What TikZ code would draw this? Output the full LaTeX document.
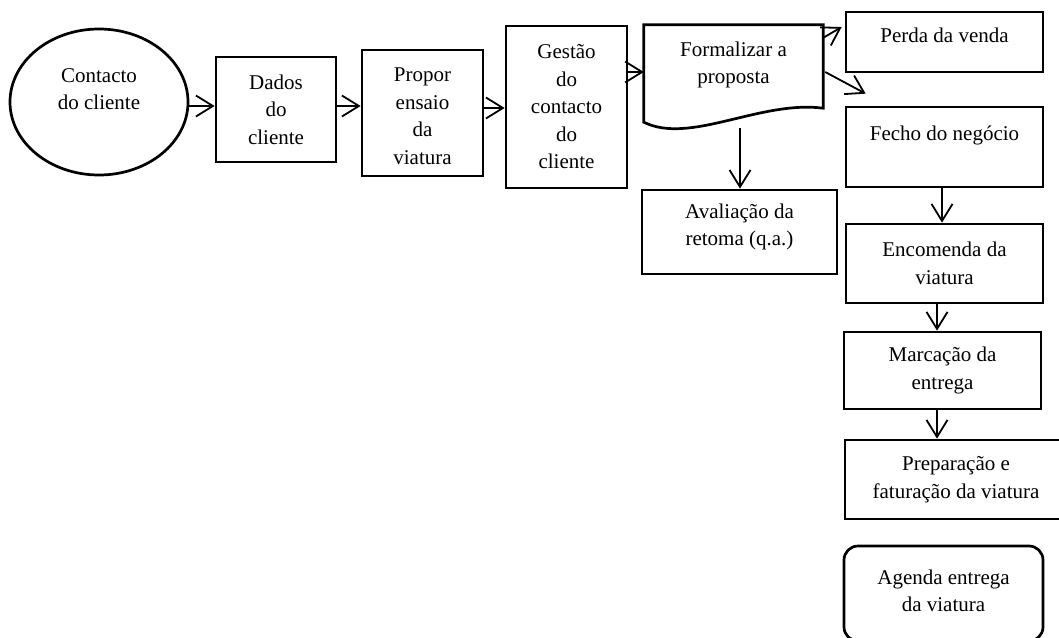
\documentclass[tikz,border=0pt]{standalone}
\usepackage{fontspec}
\setmainfont{Liberation Serif}
\usetikzlibrary{arrows.meta,shapes.geometric}
\begin{document}
\begin{tikzpicture}[x=1pt,y=-1pt,
  every node/.style={font=\fontsize{21}{27.5}\selectfont, align=center, inner sep=0pt},
  box/.style={draw, line width=2.7pt, rectangle},
  arr/.style={line width=1.8pt, -{Straight Barb[length=17pt,width=21pt]}}]
\clip (0,0) rectangle (1059,637);

% start of the process
\node[draw, ellipse, line width=2.7pt, minimum width=178pt, minimum height=146pt,
      label={[yshift=13pt]center:Contacto\\do cliente}] (ell) at (99,102) {};

% main row
\node[box, minimum width=120pt, minimum height=105pt] (dados) at (276,109.5) {Dados\\do\\cliente};
\node[box, minimum width=121pt, minimum height=126pt,
      label={[yshift=-3pt]center:Propor\\ensaio\\da\\viatura}] (propor) at (422.5,113) {};
\node[box, minimum width=121pt, minimum height=162pt] (gestao) at (566.5,107) {Gestão\\do\\contacto\\do\\cliente};

% document shape: proposal
\node[minimum width=179pt, minimum height=80pt] (form) at (733.5,65) {Formalizar a\\proposta};
\draw[line width=2.7pt] (form.north west) -- (form.north east) -- ([yshift=-3pt]form.south east)
  .. controls (760,100) and (690,145) .. ([yshift=-17pt]form.south west) -- cycle;

\node[box, minimum width=195pt, minimum height=84pt,
      label={[yshift=5pt]center:Avaliação da\\retoma (q.a.)}] (aval) at (739.5,232) {};

% right column
\node[box, minimum width=197pt, minimum height=60pt,
      label={[yshift=7pt]center:Perda da venda}] (perda) at (944.5,42) {};
\node[box, minimum width=197pt, minimum height=80pt,
      label={[yshift=12pt]center:Fecho do negócio}] (fecho) at (944.5,147) {};
\node[box, minimum width=197pt, minimum height=79pt] (enc) at (944.5,263.5) {Encomenda da\\viatura};
\node[box, minimum width=197pt, minimum height=77pt] (marc) at (942.5,370.5) {Marcação da\\entrega};
\node[box, minimum width=222pt, minimum height=79pt] (prep) at (956,479.5) {Preparação e\\faturação da viatura};
\node[box, rounded corners=14pt, minimum width=199pt, minimum height=95pt,
      label={[yshift=2.5pt]center:Agenda entrega\\da viatura}] (agenda) at (943.5,593.5) {};

% connectors
\draw[arr] ([yshift=-4pt]ell.east) -- ([yshift=3.5pt]dados.west);
\draw[arr] ([yshift=3.5pt]dados.east) -- ([yshift=7pt]propor.west);
\draw[arr] ([yshift=5pt]propor.east) -- ([yshift=-1pt]gestao.west);
\draw[arr] ([yshift=35pt]gestao.east) -- ([yshift=-7pt]form.west);
\draw[arr] ([yshift=-13pt]form.north east) -- ([xshift=-3pt,yshift=15pt]perda.west);
\draw[arr] ([xshift=2pt,yshift=-7pt]form.east) -- ([xshift=21pt,yshift=12pt]fecho.north west);
\draw[arr] ([xshift=6.5pt,yshift=-23pt]form.south) -- ([xshift=0.5pt]aval.north);
\draw[arr] ([xshift=-2.5pt]fecho.south) -- ([xshift=-2.5pt]enc.north);
\draw[arr] ([xshift=-7.5pt]enc.south) -- ([xshift=-5.5pt]marc.north);
\draw[arr] ([xshift=-5.5pt]marc.south) -- ([xshift=-19pt]prep.north);
\end{tikzpicture}
\end{document}
